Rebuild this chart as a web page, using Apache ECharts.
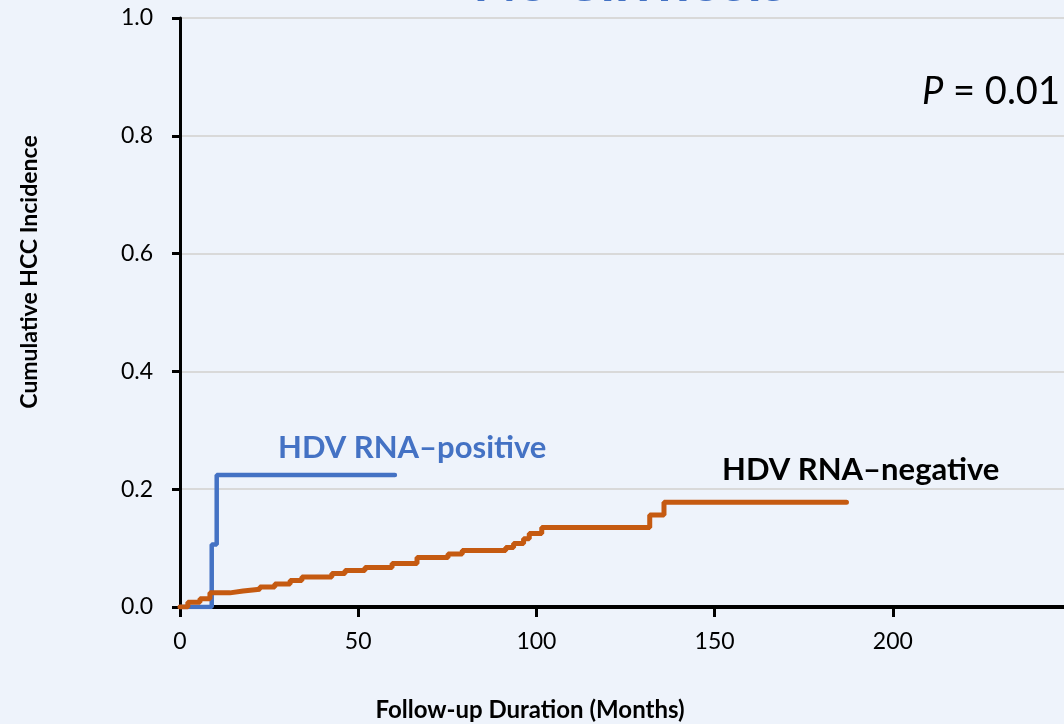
<!DOCTYPE html>
<html>
<head>
<meta charset="utf-8">
<script src="https://cdn.jsdelivr.net/npm/echarts@6/dist/echarts.min.js"></script>
<style>
html,body{margin:0;padding:0;background:#EEF3FB;}
#c{width:1064px;height:724px;}
</style>
</head>
<body>
<div id="c"></div>
<script>
// Data (months, cumulative incidence)
var positiveMonths = [0, 8.9, 10.3, 60.3];
var positiveValues = [0, 0.106, 0.224, 0.224];
var negativeMonths = [0, 2.2, 5.6, 8.4, 14, 17.7, 22.4, 26.6, 30.9, 34.2, 42.6, 46.3, 51.9, 59.5, 66.5, 75.2, 79.2, 91.4, 93.6, 96.4, 98.0, 101.5, 131.8, 135.8, 187];
var negativeValues = [0, 0.008, 0.014, 0.024, 0.027, 0.030, 0.034, 0.039, 0.045, 0.051, 0.057, 0.062, 0.067, 0.074, 0.084, 0.090, 0.096, 0.101, 0.108, 0.116, 0.125, 0.135, 0.156, 0.178, 0.178];
var xTickLabels = [0, 50, 100, 150, 200];
var yTickLabels = ['0.0', '0.2', '0.4', '0.6', '0.8', '1.0'];
var titleText = 'No Cirrhosis';
var xTitle = 'Follow-up Duration (Months)';
var yTitle = 'Cumulative HCC Incidence';
var posLabel = 'HDV RNA\u2013positive';
var negLabel = 'HDV RNA\u2013negative';

function zip(a, b) { return a.map(function (v, i) { return [v, b[i]]; }); }

var chart = echarts.init(document.getElementById('c'), null, {renderer: 'canvas'});
var FONT = 'Lato';
chart.setOption({
  backgroundColor: '#EEF3FB',
  animation: false,
  grid: {left: 180, right: -7, top: 18, bottom: 117, outerBoundsMode: 'none', containLabel: false},
  xAxis: {
    type: 'value', min: 0, max: 250, interval: 50,
    axisLine: {show: true, onZero: false, lineStyle: {color: '#000', width: 4}},
    axisTick: {show: true, length: 10, lineStyle: {color: '#000', width: 3}},
    axisLabel: {
      margin: 23, color: '#000', fontSize: 23, fontFamily: FONT,
      formatter: function (v) { return xTickLabels.indexOf(v) >= 0 ? String(v) : ''; }
    },
    splitLine: {show: false}
  },
  yAxis: {
    type: 'value', min: 0, max: 1, interval: 0.2,
    axisLine: {show: true, lineStyle: {color: '#000', width: 3}},
    axisTick: {show: true, length: 8, lineStyle: {color: '#000', width: 3}},
    axisLabel: {
      margin: 27, color: '#000', fontSize: 23, fontFamily: FONT,
      formatter: function (v) { return yTickLabels[Math.round(v / 0.2)]; }
    },
    splitLine: {show: true, lineStyle: {color: '#D9D9D9', width: 2}}
  },
  series: [
    {
      name: posLabel, type: 'line', step: 'end', symbol: 'none',
      data: zip(positiveMonths, positiveValues),
      lineStyle: {color: '#4472C4', width: 4.5, cap: 'round'}, z: 2
    },
    {
      name: negLabel, type: 'line', step: 'end', symbol: 'none',
      data: zip(negativeMonths, negativeValues),
      lineStyle: {color: '#C55A11', width: 5, cap: 'round'}, z: 3
    }
  ],
  graphic: [
    {type: 'text', x: 630, y: -46, style: {text: titleText, fill: '#4472C4', font: 'bold 57px ' + FONT, textAlign: 'center'}},
    {type: 'text', x: 278, y: 448, style: {text: posLabel, fill: '#4472C4', font: 'bold 31px ' + FONT, textVerticalAlign: 'middle'}},
    {type: 'text', x: 722, y: 470, style: {text: negLabel, fill: '#000', font: 'bold 31px ' + FONT, textVerticalAlign: 'middle'}},
    {type: 'text', x: 922, y: 92, style: {
      text: '{i|P} = 0.01', fill: '#000', textVerticalAlign: 'middle',
      rich: {i: {fontStyle: 'italic', fontSize: 38, fontFamily: FONT, fill: '#000'}},
      font: '38px ' + FONT
    }},
    {type: 'text', x: 530, y: 710, style: {text: xTitle, fill: '#000', font: 'bold 24px ' + FONT, textAlign: 'center', textVerticalAlign: 'middle'}},
    {type: 'text', x: 30, y: 272, rotation: Math.PI / 2, style: {text: yTitle, fill: '#000', font: 'bold 23px ' + FONT, textAlign: 'center', textVerticalAlign: 'middle'}}
  ]
});
</script>
</body>
</html>
